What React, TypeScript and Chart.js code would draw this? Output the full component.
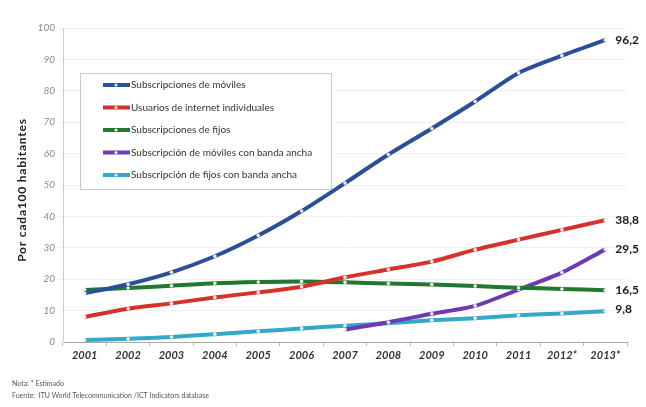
import React, { useEffect, useRef } from "react";
import { Chart, registerables } from "chart.js";

Chart.register(...registerables);

const years = ["2001", "2002", "2003", "2004", "2005", "2006", "2007", "2008", "2009", "2010", "2011", "2012*", "2013*"];
const mobile = [15.5, 18.4, 22.2, 27.3, 33.9, 41.7, 50.6, 59.7, 68.0, 76.6, 85.7, 91.2, 96.2];
const internet = [8.0, 10.6, 12.3, 14.2, 15.8, 17.6, 20.6, 23.1, 25.6, 29.4, 32.6, 35.7, 38.8];
const fixedTel = [16.6, 17.2, 17.9, 18.7, 19.1, 19.3, 19.0, 18.6, 18.3, 17.8, 17.3, 16.9, 16.5];
const mobileBB = [null, null, null, null, null, null, 4.0, 6.3, 9.0, 11.5, 16.7, 22.1, 29.5];
const fixedBB = [0.6, 1.0, 1.6, 2.5, 3.4, 4.3, 5.2, 6.0, 6.9, 7.6, 8.5, 9.1, 9.8];
const seriesNames = [
  "Subscripciones de móviles",
  "Usuarios de internet individuales",
  "Subscripciones de fijos",
  "Subscripción de móviles con banda ancha",
  "Subscripción de fijos con banda ancha",
];
const endLabels = ["96,2", "38,8", "16,5", "29,5", "9,8"];
const colors = ["#2b4f98", "#d8312a", "#23782f", "#6a3bb3", "#33a9c9"];
const yTitle = "Por cada100 habitantes";
const notes = ["Nota: * Estimado", "Fuente:  ITU World Telecommunication /ICT Indicators database"];

const FONT = "Lato, 'DejaVu Sans', sans-serif";

const overlayPlugin = {
  id: "overlay",
  afterDraw(chart: any) {
    const ctx = chart.ctx as CanvasRenderingContext2D;
    ctx.save();
    // y title
    ctx.save();
    ctx.translate(22, 190);
    ctx.rotate(-Math.PI / 2);
    ctx.fillStyle = "#222";
    ctx.font = `bold 12px ${FONT}`;
    (ctx as any).letterSpacing = "0.8px";
    ctx.textAlign = "center";
    ctx.textBaseline = "middle";
    ctx.fillText(yTitle, 0, 0);
    ctx.restore();

    // legend box
    const lx = 80, ly = 73, lw = 251, lh = 116;
    ctx.fillStyle = "#fff";
    ctx.fillRect(lx, ly, lw, lh);
    ctx.strokeStyle = "#c8c8c8";
    ctx.lineWidth = 1;
    ctx.strokeRect(lx + 0.5, ly + 0.5, lw, lh);
    seriesNames.forEach((name, i) => {
      const y = 85 + i * 22.5;
      ctx.strokeStyle = colors[i];
      ctx.lineWidth = 4;
      ctx.beginPath();
      ctx.moveTo(103, y);
      ctx.lineTo(130, y);
      ctx.stroke();
      ctx.fillStyle = "#e8e8e8";
      ctx.beginPath();
      ctx.arc(116, y, 1.6, 0, Math.PI * 2);
      ctx.fill();
      ctx.fillStyle = "#333";
      ctx.font = `10px ${FONT}`;
      ctx.textAlign = "left";
      ctx.textBaseline = "middle";
      ctx.fillText(name, 131, y);
    });

    // end labels
    chart.data.datasets.forEach((ds: any, i: number) => {
      const meta = chart.getDatasetMeta(i);
      const pt = meta.data[meta.data.length - 1];
      if (!pt) return;
      ctx.fillStyle = "#1a1a1a";
      ctx.font = `bold 12px ${FONT}`;
      ctx.textAlign = "left";
      ctx.textBaseline = "middle";
      ctx.fillText(endLabels[i], pt.x + 10, pt.y + (i === 4 ? -2 : 0));
    });

    // notes
    ctx.fillStyle = "#555";
    ctx.font = `7px ${FONT}`;
    ctx.textAlign = "left";
    ctx.textBaseline = "middle";
    ctx.fillText(notes[0], 12, 384);
    ctx.fillText(notes[1], 12, 396);
    ctx.restore();
  },
};

export default function App() {
  const ref = useRef<HTMLCanvasElement>(null);
  useEffect(() => {
    const data = [mobile, internet, fixedTel, mobileBB, fixedBB];
    const chart = new Chart(ref.current!, {
      type: "line",
      data: {
        labels: years,
        datasets: data.map((d, i) => ({
          label: seriesNames[i],
          data: d as any,
          borderColor: colors[i],
          backgroundColor: colors[i],
          borderWidth: 4,
          pointRadius: 1.8,
          pointBackgroundColor: "#eeeeee",
          pointBorderWidth: 0,
          tension: 0.25,
          spanGaps: false,
          clip: false as any,
        })),
      },
      options: {
        animation: false,
        responsive: false,
        maintainAspectRatio: false,
        layout: { padding: { top: 28, right: 19, left: 0, bottom: 0 } },
        plugins: { legend: { display: false }, tooltip: { enabled: false } },
        scales: {
          x: {
            offset: true,
            grid: { display: true, drawOnChartArea: false, color: "#bbb", tickLength: 4, offset: true },
            border: { color: "#aaa", width: 1 },
            ticks: {
              color: "#333",
              font: { family: FONT, size: 11, style: "italic", weight: "bold" },
              padding: 3,
              maxRotation: 0,
              autoSkip: false,
            },
            afterFit(scale: any) {
              scale.height = 407 - 342;
            },
          },
          y: {
            min: 0,
            max: 100,
            ticks: {
              stepSize: 10,
              color: "#8a8a8a",
              font: { family: FONT, size: 10, style: "italic" },
              padding: 3,
            },
            grid: { color: "rgba(0,0,0,0.06)", tickLength: 5 },
            border: { color: "#ccc", width: 1 },
            afterFit(scale: any) {
              scale.width = 63;
            },
          },
        },
      },
      plugins: [overlayPlugin],
    });
    return () => chart.destroy();
  }, []);
  return (
    <div style={{ position: "absolute", left: 0, top: 0, width: 646, height: 407, background: "#fff" }}>
      <canvas ref={ref} width={646} height={407} style={{ width: 646, height: 407 }} />
    </div>
  );
}
